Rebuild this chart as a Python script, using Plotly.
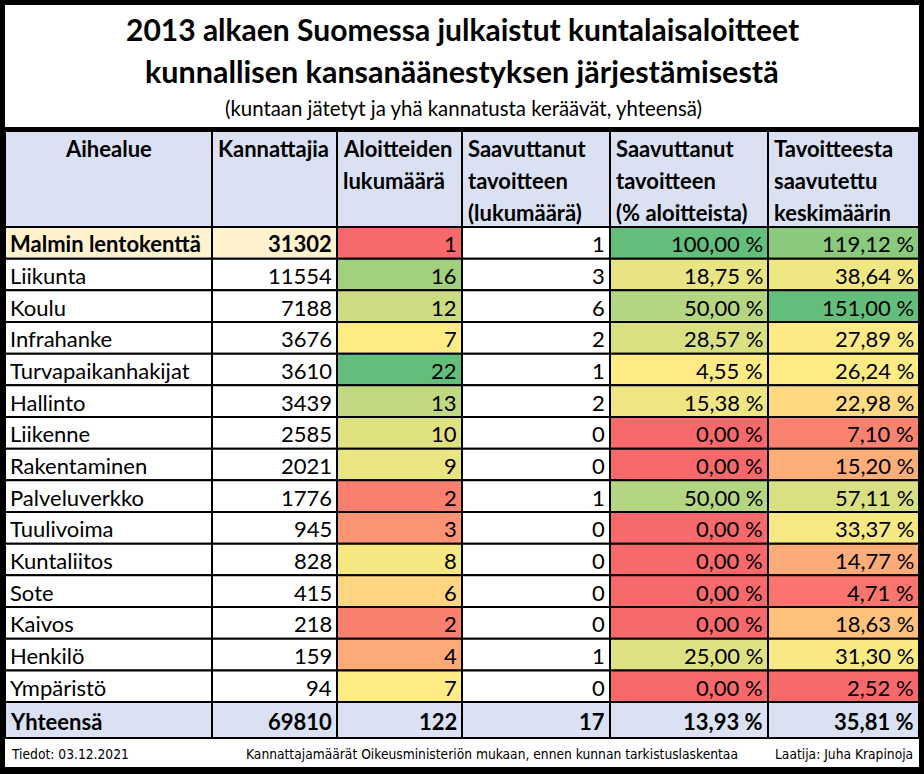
import plotly.graph_objects as go

# ---------------- data ----------------
categories = ["Malmin lentokenttä", "Liikunta", "Koulu", "Infrahanke", "Turvapaikanhakijat",
              "Hallinto", "Liikenne", "Rakentaminen", "Palveluverkko", "Tuulivoima",
              "Kuntaliitos", "Sote", "Kaivos", "Henkilö", "Ympäristö"]
supporters = [31302, 11554, 7188, 3676, 3610, 3439, 2585, 2021, 1776, 945, 828, 415, 218, 159, 94]
initiatives = [1, 16, 12, 7, 22, 13, 10, 9, 2, 3, 8, 6, 2, 4, 7]
reached_count = [1, 3, 6, 2, 1, 2, 0, 0, 1, 0, 0, 0, 0, 1, 0]
reached_pct = [100.00, 18.75, 50.00, 28.57, 4.55, 15.38, 0.00, 0.00, 50.00, 0.00,
               0.00, 0.00, 0.00, 25.00, 0.00]
avg_progress = [119.12, 38.64, 151.00, 27.89, 26.24, 22.98, 7.10, 15.20, 57.11, 33.37,
                14.77, 4.71, 18.63, 31.30, 2.52]
total_label = "Yhteensä"
totals = [69810, 122, 17, 13.93, 35.81]
highlight_row = "Malmin lentokenttä"

header_lines = [["Aihealue"], ["Kannattajia"], ["Aloitteiden", "lukumäärä"],
                ["Saavuttanut", "tavoitteen", "(lukumäärä)"],
                ["Saavuttanut", "tavoitteen", "(% aloitteista)"],
                ["Tavoitteesta", "saavutettu", "keskimäärin"]]
title_lines = ["2013 alkaen Suomessa julkaistut kuntalaisaloitteet",
               "kunnallisen kansanäänestyksen järjestämisestä"]
subtitle = "(kuntaan jätetyt ja yhä kannatusta keräävät, yhteensä)"
footer_left = "Tiedot: 03.12.2021"
footer_mid = "Kannattajamäärät Oikeusministeriön mukaan, ennen kunnan tarkistuslaskentaa"
footer_right = "Laatija: Juha Krapinoja"

# ---------------- style / geometry ----------------
W, H = 924, 774
col_edges = [5, 212, 337, 462, 610, 768, 919]
header_top, header_bot = 131, 227
row_h = 31.67
total_h = 36
FONT = "Lato, Carlito, Calibri, sans-serif"
FOOT_FONT = "Liberation Sans Narrow, DejaVu Sans Condensed, sans-serif"
BODY_SIZE = 22
HEAD_SIZE = 22
HEADER_FILL = "#D9E1F2"
PEACH = "#FFF2CC"
RED, YEL, GRN = (248, 105, 107), (255, 235, 132), (99, 190, 123)


def fmt_pct(v):
    return f"{v:.2f}".replace(".", ",") + " %"


def scale_colors(vals):
    s = sorted(vals)
    n = len(s)
    pos = 0.5 * (n - 1)
    lo_i = int(pos)
    mid = s[lo_i] + (s[min(lo_i + 1, n - 1)] - s[lo_i]) * (pos - lo_i)
    vmin, vmax = s[0], s[-1]
    out = []
    for v in vals:
        if v <= mid:
            t = 0 if mid == vmin else (v - vmin) / (mid - vmin)
            a, b = RED, YEL
        else:
            t = (v - mid) / (vmax - mid)
            a, b = YEL, GRN
        c = tuple(round(a[k] + (b[k] - a[k]) * t) for k in range(3))
        out.append("rgb(%d,%d,%d)" % c)
    return out


fig = go.Figure()
shapes = []
ann = []


def rect(x0, y0, x1, y1, fill, lw=2):
    shapes.append(dict(type="rect", xref="x", yref="y", x0=x0, y0=y0, x1=x1, y1=y1,
                       fillcolor=fill, line=dict(color="black", width=lw), layer="below"))


def text(x, y, s, size=BODY_SIZE, bold=False, xanchor="left", family=FONT, color="black"):
    ann.append(dict(x=x, y=y, xref="x", yref="y", text=("<b>%s</b>" % s) if bold else s,
                    showarrow=False, xanchor=xanchor, yanchor="middle",
                    font=dict(family=family, size=size, color=color)))


# title area
shapes.append(dict(type="rect", xref="x", yref="y", x0=5, y0=5, x1=919, y1=127,
                   fillcolor="white", line=dict(width=0), layer="below"))
text(462, 29, title_lines[0], size=30, bold=True, xanchor="center")
text(462, 71, title_lines[1], size=30.5, bold=True, xanchor="center")
text(463, 108, subtitle, size=20.4, xanchor="center")

# header
for c in range(6):
    rect(col_edges[c], header_top, col_edges[c + 1], header_bot, HEADER_FILL)
    for li, line in enumerate(header_lines[c]):
        y = 148 + 32 * li
        if c == 0:
            text((col_edges[0] + col_edges[1]) / 2, y, line, size=HEAD_SIZE, bold=True, xanchor="center")
        else:
            text(col_edges[c] + 4, y, line, size=HEAD_SIZE, bold=True)

# body colors
col3_colors = scale_colors(initiatives)
col5_colors = scale_colors(reached_pct)
col6_colors = scale_colors(avg_progress)

for i, cat in enumerate(categories):
    y0 = header_bot + i * row_h
    y1 = y0 + row_h
    yc = (y0 + y1) / 2 + 1
    hl = cat == highlight_row
    fills = [PEACH if hl else "white", PEACH if hl else "white", col3_colors[i], "white",
             col5_colors[i], col6_colors[i]]
    vals = [cat, str(supporters[i]), str(initiatives[i]), str(reached_count[i]),
            fmt_pct(reached_pct[i]), fmt_pct(avg_progress[i])]
    for c in range(6):
        rect(col_edges[c], y0, col_edges[c + 1], y1, fills[c])
        if c == 0:
            text(col_edges[0] + 3, yc, vals[c], bold=hl)
        else:
            text(col_edges[c + 1] - 3, yc, vals[c], bold=(hl and c == 1), xanchor="right")

# total row
ty0 = header_bot + len(categories) * row_h
ty1 = ty0 + total_h
tyc = (ty0 + ty1) / 2 + 1
tvals = [total_label, str(totals[0]), str(totals[1]), str(totals[2]),
         fmt_pct(totals[3]), fmt_pct(totals[4])]
for c in range(6):
    rect(col_edges[c], ty0, col_edges[c + 1], ty1, HEADER_FILL)
    if c == 0:
        text(col_edges[0] + 3, tyc, tvals[c], bold=True)
    else:
        text(col_edges[c + 1] - 3, tyc, tvals[c], bold=True, xanchor="right")

# footer
shapes.append(dict(type="rect", xref="x", yref="y", x0=5, y0=ty1 + 1, x1=919, y1=767,
                   fillcolor="white", line=dict(width=0), layer="below"))
fy = (ty1 + 767) / 2 + 1
text(9, fy, footer_left, size=13.7, family=FOOT_FONT)
text(244, fy, footer_mid, size=13.7, family=FOOT_FONT)
text(915, fy, footer_right, size=13.7, family=FOOT_FONT, xanchor="right")

fig.update_layout(
    width=W, height=H, margin=dict(l=0, r=0, t=0, b=0),
    paper_bgcolor="black", plot_bgcolor="black",
    shapes=shapes, annotations=ann, showlegend=False,
    xaxis=dict(range=[0, W], visible=False, fixedrange=True),
    yaxis=dict(range=[H, 0], visible=False, fixedrange=True),
)
fig.write_html("out.html", config={"displayModeBar": False},
               post_script="document.body.style.margin='0';document.body.style.overflow='hidden';")
